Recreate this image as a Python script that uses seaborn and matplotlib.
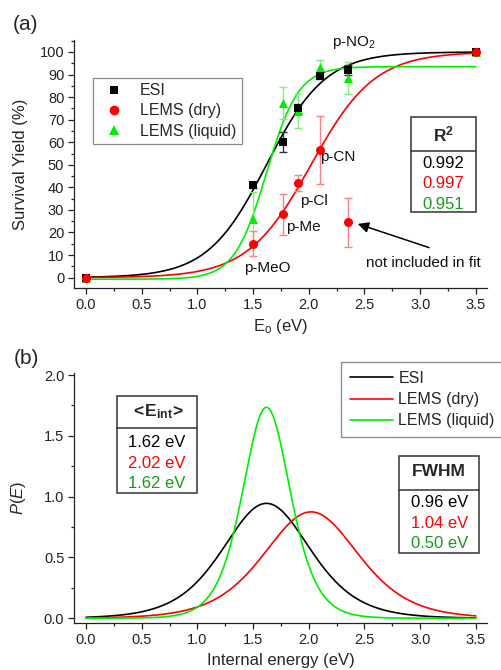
import numpy as np
import pandas as pd
import matplotlib
matplotlib.use("Agg")
import matplotlib.pyplot as plt
import seaborn as sns
from matplotlib.patches import Rectangle
from matplotlib.lines import Line2D
from matplotlib.ticker import MultipleLocator, FormatStrFormatter

# ---------------- data ----------------
series_names = ["ESI", "LEMS (dry)", "LEMS (liquid)"]
line_colors = ["#000000", "#ff0000", "#00ee00"]
text_colors = ["#000000", "#ff0000", "#1a9a1a"]
err_colors = ["#333333", "#ff8080", "#80ee80"]

esi_E = [0.00, 1.50, 1.77, 1.90, 2.10, 2.35, 3.50]
esi_Y = [0.0, 41.0, 60.0, 75.0, 89.5, 92.0, 100.0]
esi_err = [0.0, 1.5, 4.5, 2.0, 1.5, 2.0, 0.0]

dry_E = [0.00, 1.50, 1.77, 1.90, 2.10, 2.35, 3.50]
dry_Y = [0.0, 15.0, 28.0, 42.0, 56.5, 24.5, 100.0]
dry_err = [0.0, 5.5, 9.0, 3.5, 15.0, 11.0, 0.0]

liq_E = [0.00, 1.50, 1.77, 1.90, 2.10, 2.35, 3.50]
liq_Y = [0.0, 26.0, 77.5, 74.0, 93.5, 88.5, 100.0]
liq_err = [0.0, 12.0, 7.0, 7.5, 3.0, 7.0, 0.0]

# fitted sigmoid / P(E) parameters
fit_center = [1.62, 2.02, 1.62]     # <E_int> (eV)
fit_peak = [0.945, 0.875, 1.735]    # maximum of P(E)
fit_bottom = [0.0, 0.0, -0.7]       # lower plateau of survival curve (%)
fit_top = [100.0, 100.0, 93.5]      # upper plateau of survival curve (%)

r2_labels = ["0.992", "0.997", "0.951"]
eint_labels = ["1.62 eV", "2.02 eV", "1.62 eV"]
fwhm_labels = ["0.96 eV", "1.04 eV", "0.50 eV"]

sub_labels = ["p-MeO", "p-Me", "p-Cl", "p-CN", "p-NO$_2$"]
sub_pos_E = [1.625, 1.80, 1.92, 2.10, 2.41]
sub_pos_Y = [4.4, 22.6, 34.0, 53.5, 104.0]
note_label = "not included in fit"

x_ticks = [0.0, 0.5, 1.0, 1.5, 2.0, 2.5, 3.0, 3.5]

# ---------------- style ----------------
sns.set_style("ticks")
plt.rcParams["font.family"] = ["Liberation Sans", "DejaVu Sans"]
plt.rcParams["mathtext.fontset"] = "custom"
plt.rcParams["mathtext.rm"] = "Liberation Sans"
plt.rcParams["mathtext.it"] = "Liberation Sans:italic"
plt.rcParams["mathtext.bf"] = "Liberation Sans:bold"

W, H = 502, 670
fig = plt.figure(figsize=(W / 100, H / 100), dpi=100)


def fx(x):
    return x / W


def fy(y):
    return 1 - y / H


ax1 = fig.add_axes([fx(74), fy(288), (487 - 74) / W, (288 - 40) / H])
ax2 = fig.add_axes([fx(74), fy(623), (487 - 74) / W, (623 - 373) / H])

# ---------------- curves ----------------
E_grid = np.linspace(0.0, 3.5, 500)
rows_s, rows_p = [], []
for name, c, pk, lo, hi in zip(series_names, fit_center, fit_peak, fit_bottom, fit_top):
    s = 1.0 / (4.0 * pk)
    z = (E_grid - c) / s
    sig = lo + (hi - lo) / (1.0 + np.exp(-z))
    pdf = np.exp(-z) / (s * (1.0 + np.exp(-z)) ** 2)
    rows_s.append(pd.DataFrame({"E": E_grid, "Y": sig, "series": name}))
    rows_p.append(pd.DataFrame({"E": E_grid, "P": pdf, "series": name}))
curve_df = pd.concat(rows_s, ignore_index=True)
pdf_df = pd.concat(rows_p, ignore_index=True)
palette = dict(zip(series_names, line_colors))

sns.lineplot(data=curve_df, x="E", y="Y", hue="series", palette=palette,
             hue_order=series_names, lw=1.2, legend=False, ax=ax1, zorder=2)
sns.lineplot(data=pdf_df, x="E", y="P", hue="series", palette=palette,
             hue_order=series_names, lw=1.2, legend=False, ax=ax2)

# ---------------- points with error bars ----------------
pts = {
    "ESI": (esi_E, esi_Y, esi_err, "s", 30),
    "LEMS (dry)": (dry_E, dry_Y, dry_err, "o", 42),
    "LEMS (liquid)": (liq_E, liq_Y, liq_err, "^", 42),
}
draw_order = ["LEMS (liquid)", "ESI", "LEMS (dry)"]
for k, name in enumerate(draw_order):
    i = series_names.index(name)
    E, Y, err, mk, sz = pts[name]
    ax1.errorbar(E, Y, yerr=err, fmt="none", ecolor=err_colors[i],
                 elinewidth=1.0, capsize=3, capthick=1.0, zorder=3 + k)
    df = pd.DataFrame({"E": E, "Y": Y})
    sns.scatterplot(data=df, x="E", y="Y", color=line_colors[i],
                    marker=mk, s=sz, linewidth=0, ax=ax1, zorder=6 + k)

# ---------------- axes formatting ----------------
for ax in (ax1, ax2):
    ax.set_xlim(-0.108, 3.6)
    ax.set_xticks(x_ticks)
    ax.xaxis.set_minor_locator(MultipleLocator(0.25))
    ax.xaxis.set_major_formatter(FormatStrFormatter("%.1f"))
    ax.tick_params(which="major", direction="out", length=4.5, width=0.9,
                   colors="#222222", labelsize=10.5, pad=2.5)
    ax.tick_params(which="minor", direction="out", length=2.5, width=0.9,
                   colors="#222222")
    for sp in ("top", "right"):
        ax.spines[sp].set_visible(False)
    for sp in ("left", "bottom"):
        ax.spines[sp].set_linewidth(0.9)
        ax.spines[sp].set_color("#222222")

ax1.set_ylim(-4.6, 105.3)
ax1.yaxis.set_major_locator(MultipleLocator(10))
ax1.yaxis.set_minor_locator(MultipleLocator(5))
ax1.set_xlabel("E$_\\mathrm{o}$ (eV)", fontsize=12)
ax1.set_ylabel("Survival Yield (%)", fontsize=12)
ax1.xaxis.set_label_coords(0.5, -0.115)
ax1.yaxis.set_label_coords(-0.112, 0.5)

ax2.set_ylim(-0.039, 2.017)
ax2.yaxis.set_major_locator(MultipleLocator(0.5))
ax2.yaxis.set_minor_locator(MultipleLocator(0.25))
ax2.yaxis.set_major_formatter(FormatStrFormatter("%.1f"))
ax2.set_xlabel("Internal energy (eV)", fontsize=12)
ax2.set_ylabel("$\\mathit{P(E)}$", fontsize=12)
ax2.xaxis.set_label_coords(0.5, -0.122)
ax2.yaxis.set_label_coords(-0.112, 0.5)

# ---------------- annotations ----------------
for lab, e, y in zip(sub_labels, sub_pos_E, sub_pos_Y):
    ha = "center" if lab in ("p-MeO", "p-NO$_2$") else "left"
    ax1.text(e, y, lab, fontsize=11, ha=ha, va="center", color="#111111", zorder=10)
ax1.text(3.03, 6.6, note_label, fontsize=11, ha="center", va="center", color="#111111")
ax1.annotate("", xy=(2.44, 23.8), xytext=(3.08, 13.3),
             arrowprops=dict(arrowstyle="-|>", color="black", lw=1.1,
                             mutation_scale=16, shrinkA=0, shrinkB=0))

# ---------------- legends ----------------
h1 = [Line2D([], [], ls="none", marker=m, color=c, markersize=ms, markeredgewidth=0)
      for m, c, ms in zip(["s", "o", "^"], line_colors, [5.5, 7, 7])]
leg1 = ax1.legend(h1, series_names, loc="upper left", bbox_to_anchor=(0.045, 0.848),
                  borderaxespad=0, fontsize=11.5, frameon=True, fancybox=False,
                  edgecolor="#888888", framealpha=1, borderpad=0.35,
                  labelspacing=0.32, handletextpad=0.6, handlelength=2.0)
leg1.get_frame().set_linewidth(0.9)

h2 = [Line2D([], [], color=c, lw=1.2) for c in line_colors]
leg2 = ax2.legend(h2, series_names, loc="upper left", bbox_to_anchor=(0.646, 1.043),
                  borderaxespad=0, fontsize=11.5, frameon=True, fancybox=False,
                  edgecolor="#888888", framealpha=1, borderpad=0.55,
                  labelspacing=0.38, handletextpad=0.35, handlelength=2.7)
leg2.get_frame().set_linewidth(0.9)


# ---------------- tables ----------------
def draw_table(x0, y0, x1, y1, ydiv, header, header_y, labels, label_ys):
    fig.add_artist(Rectangle((fx(x0), fy(y1)), (x1 - x0) / W, (y1 - y0) / H,
                             transform=fig.transFigure, fill=True, facecolor="white",
                             edgecolor="#333333", lw=1.1, zorder=20))
    fig.add_artist(Line2D([fx(x0), fx(x1)], [fy(ydiv), fy(ydiv)],
                          transform=fig.transFigure, color="#333333", lw=1.1, zorder=21))
    xc = (x0 + x1) / 2
    fig.text(fx(xc), fy(header_y), header, fontsize=12.5, fontweight="bold",
             ha="center", va="center", zorder=22)
    for lab, yy, col in zip(labels, label_ys, text_colors):
        fig.text(fx(xc), fy(yy), lab, fontsize=12, color=col,
                 ha="center", va="center", zorder=22)


draw_table(411, 116.7, 475.7, 211.7, 150.7, "$\\mathbf{R^2}$", 134,
           r2_labels, [163.5, 183.8, 204.2])
draw_table(117.3, 395.7, 196.7, 493.3, 428.3, "$\\mathbf{<\\!E_{int}\\!>}$", 411.5,
           eint_labels, [442.7, 463.3, 484.0])
draw_table(399.3, 456, 479.3, 552.7, 489.5, "FWHM", 472,
           fwhm_labels, [502.7, 523.3, 543.5])

# panel labels
fig.text(fx(26), fy(24), "(a)", fontsize=15, ha="center", va="center")
fig.text(fx(26.5), fy(359), "(b)", fontsize=15, ha="center", va="center")

fig.savefig("out.png", dpi=100)
